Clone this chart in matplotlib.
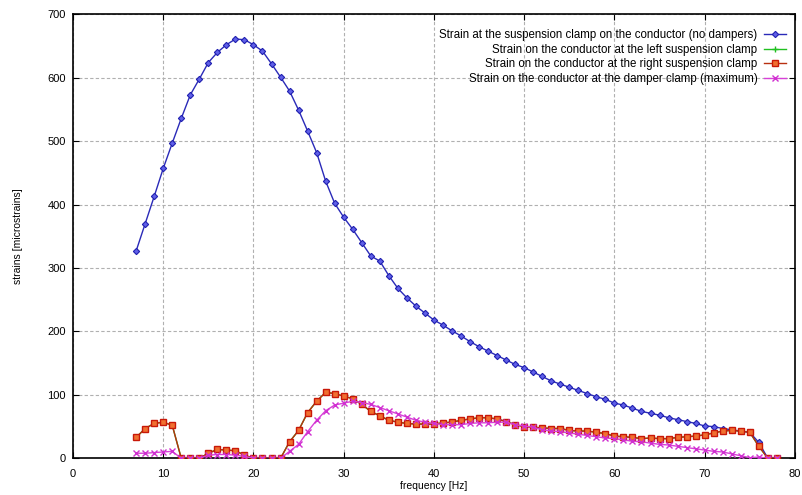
import matplotlib
matplotlib.use("Agg")
import matplotlib.pyplot as plt

plt.rcParams['font.family'] = ['Liberation Sans', 'DejaVu Sans']

freq_blue = list(range(7, 78))
blue = [327, 370, 413, 457, 497, 536, 573, 598, 624, 640, 652, 661, 660, 652,
        642, 622, 601, 579, 549, 516, 482, 437, 402, 380, 361, 340, 319, 311,
        288, 268, 253, 240, 229, 218, 210, 201, 193, 184, 176, 169, 162, 155,
        148, 143, 136, 129, 122, 117, 112, 107, 102, 97, 93, 87, 84, 79, 74,
        71, 68, 64, 61, 58, 55, 51, 50, 47, 45, 43, 41, 25, 0]

freq_low = list(range(7, 79))
red = [33, 47, 55, 57, 52, 0, 0, 0, 8, 14, 13, 12, 5, 0, 0, 0, 0, 26, 44, 72,
       90, 104, 102, 98, 94, 85, 74, 67, 60, 57, 55, 54, 54, 54, 56, 57, 60,
       62, 64, 64, 62, 58, 53, 50, 49, 48, 47, 47, 44, 43, 43, 41, 39, 35, 34,
       33, 31, 32, 31, 31, 33, 34, 35, 37, 40, 43, 44, 43, 41, 19, 0, 0]
green = list(red)
magenta = [8, 8, 9, 10, 11, 0, 0, 0, 5, 6, 6, 5, 3, 0, 0, 0, 0, 11, 22, 42,
           60, 75, 84, 87, 90, 88, 85, 80, 75, 70, 65, 60, 57, 55, 53, 53, 53,
           55, 56, 56, 57, 57, 53, 51, 49, 45, 43, 42, 40, 38, 36, 34, 32, 31,
           29, 27, 26, 24, 22, 21, 19, 17, 15, 13, 11, 10, 7, 4, 1, 2, 0, 0]

labels = ["Strain at the suspension clamp on the conductor (no dampers)",
          "Strain on the conductor at the left suspension clamp",
          "Strain on the conductor at the right suspension clamp",
          "Strain on the conductor at the damper clamp (maximum)"]

fig = plt.figure(figsize=(8.03, 4.95), dpi=100)
ax = fig.add_axes([0.0909, 0.0741, 0.899, 0.897])

ax.plot(freq_blue, blue, color='#2a2ab8', lw=1.0, marker='D', ms=3.2,
        mfc='#6060e8', mec='#2020b0', mew=0.8, label=labels[0], zorder=3)
ax.plot(freq_low, green, color='#20c020', lw=1.0, marker='+', ms=5,
        label=labels[1], zorder=2)
ax.plot(freq_low, red, color='#b83010', lw=1.0, marker='s', ms=5,
        mfc='#f07030', mec='#c81808', mew=1.0, label=labels[2], zorder=4)
ax.plot(freq_low, magenta, color='#d840d8', lw=1.0, marker='x', ms=5,
        mec='#d030d0', mew=1.0, label=labels[3], zorder=5)

ax.set_xlim(0, 80)
ax.set_ylim(0, 700)
ax.set_xticks(range(0, 81, 10))
ax.set_yticks(range(0, 701, 100))
ax.grid(True, color='#b0b0b0', linestyle=(0, (3, 2)), lw=0.8)
ax.tick_params(direction='in', top=True, right=True, labelsize=8, length=4,
               color='black')
ax.tick_params(axis='x', pad=8)
ax.tick_params(axis='y', pad=5)
for s in ax.spines.values():
    s.set_linewidth(1.2)
ax.set_xlabel("frequency [Hz]", fontsize=7.5, labelpad=1)
ax.set_ylabel("strains [microstrains]", fontsize=7.5, labelpad=18)

leg = ax.legend(loc='upper right', bbox_to_anchor=(0.999, 0.985), frameon=False,
                fontsize=8.3, markerfirst=False, handlelength=1.9,
                borderaxespad=0.3, labelspacing=0.22, handletextpad=0.6)
for t in leg.get_texts():
    t.set_ha('right')
leg._legend_box.align = 'right'

fig.savefig("out.png", dpi=100)
